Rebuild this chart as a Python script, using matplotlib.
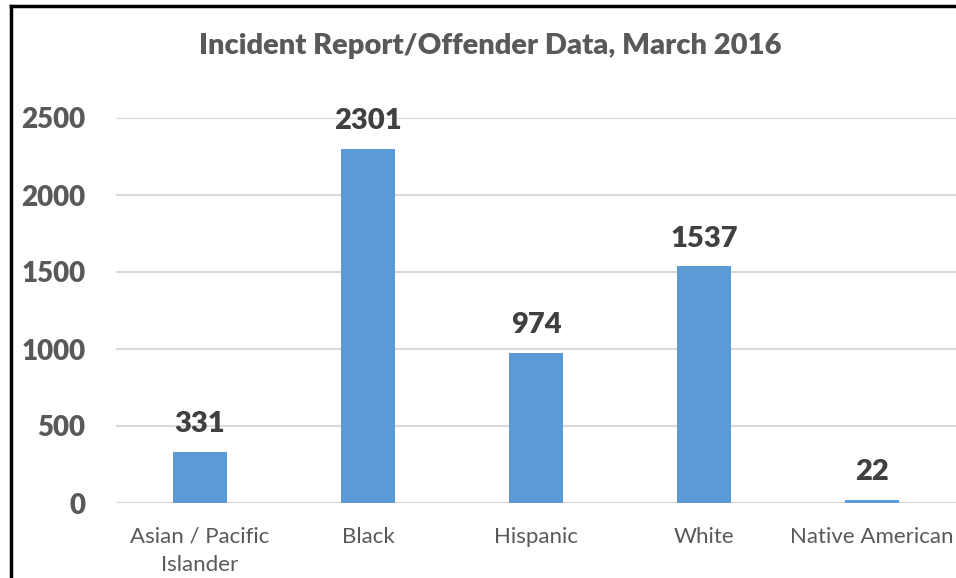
import matplotlib.pyplot as plt
from matplotlib.lines import Line2D

categories = ["Asian / Pacific\nIslander", "Black", "Hispanic", "White", "Native American"]
offenders = [331, 2301, 974, 1537, 22]
yticks = [0, 500, 1000, 1500, 2000, 2500]

plt.rcParams['font.family'] = ['Lato', 'DejaVu Sans']

fig = plt.figure(figsize=(9.56, 5.78), dpi=100)
ax = fig.add_axes([116 / 956, 1 - 503 / 578, 840 / 956, 385 / 578])

x = range(len(categories))
ax.bar(x, offenders, width=0.32, color="#5B9BD5", zorder=3)
for xi, v in zip(x, offenders):
    ax.text(xi, v + 95, str(v), ha="center", va="bottom", fontsize=21,
            fontweight="heavy", color="#404040")

ax.set_xlim(-0.5, 4.5)
ax.set_ylim(0, 2500)
ax.set_yticks(yticks)
ax.set_xticks(list(x))
ax.set_xticklabels(categories, fontsize=16, color="#595959", linespacing=1.5)
for lab in ax.get_yticklabels():
    lab.set_fontsize(20)
    lab.set_fontweight("heavy")
    lab.set_color("#595959")
ax.tick_params(length=0, axis="y", pad=22)
ax.tick_params(length=0, axis="x", pad=17)
ax.grid(axis="y", color="#D9D9D9", linewidth=1.5, zorder=0)
for s in ax.spines.values():
    s.set_visible(False)

fig.text(490 / 956, 1 - 46 / 578, "Incident Report/Offender Data, March 2016",
         ha="center", va="center", fontsize=21, fontweight="heavy", color="#595959")

# black frame on the left and top (cropped screenshot border)
fig.add_artist(Line2D([11 / 956, 11 / 956], [0, 1 - 6 / 578], transform=fig.transFigure,
                      color="black", linewidth=2.5))
fig.add_artist(Line2D([11 / 956, 1], [1 - 6 / 578, 1 - 6 / 578], transform=fig.transFigure,
                      color="black", linewidth=2.5))

fig.savefig("out.png", dpi=100)
